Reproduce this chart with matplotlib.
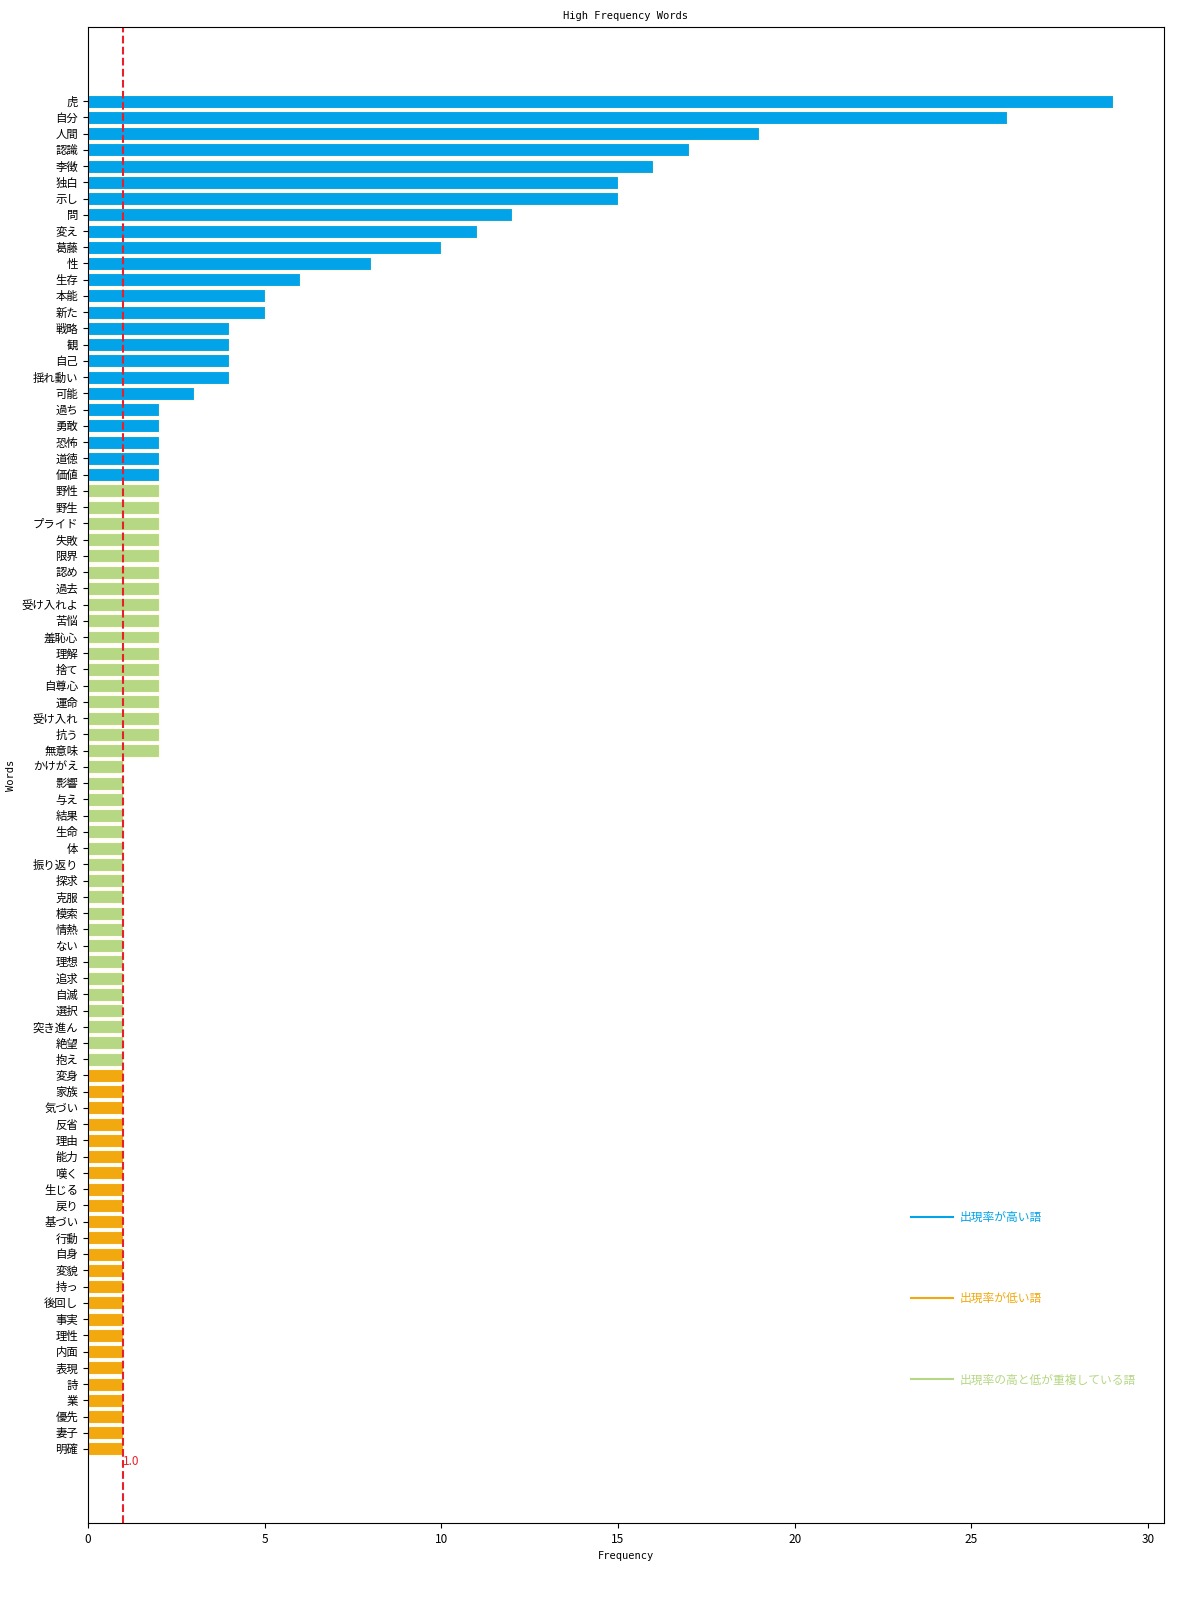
import matplotlib
matplotlib.use('Agg')
import matplotlib.pyplot as plt
from matplotlib.lines import Line2D

plt.rcParams['font.family'] = ['Noto Sans CJK JP', 'DejaVu Sans']

# Words, top to bottom
high_words = ['虎', '自分', '人間', '認識', '李徴', '独白', '示し', '問', '変え', '葛藤',
              '性', '生存', '本能', '新た', '戦略', '観', '自己', '揺れ動い', '可能',
              '過ち', '勇敢', '恐怖', '道徳', '価値']
high_freq = [29, 26, 19, 17, 16, 15, 15, 12, 11, 10,
             8, 6, 5, 5, 4, 4, 4, 4, 3,
             2, 2, 2, 2, 2]

both_words = ['野性', '野生', 'プライド', '失敗', '限界', '認め', '過去', '受け入れよ',
              '苦悩', '羞恥心', '理解', '捨て', '自尊心', '運命', '受け入れ', '抗う', '無意味',
              'かけがえ', '影響', '与え', '結果', '生命', '体', '振り返り', '探求', '克服',
              '模索', '情熱', 'ない', '理想', '追求', '自滅', '選択', '突き進ん', '絶望', '抱え']
both_freq = [2] * 17 + [1] * 19

low_words = ['変身', '家族', '気づい', '反省', '理由', '能力', '嘆く', '生じる', '戻り',
             '基づい', '行動', '自身', '変貌', '持っ', '後回し', '事実', '理性', '内面',
             '表現', '詩', '業', '優先', '妻子', '明確']
low_freq = [1] * 24

threshold = 1.0

c_high = '#03A3E9'
c_low = '#F2A80F'
c_both = '#B6D783'

words = high_words + both_words + low_words
freqs = high_freq + both_freq + low_freq
colors = [c_high] * len(high_words) + [c_both] * len(both_words) + [c_low] * len(low_words)

n = len(words)
ypos = [n - 1 - i for i in range(n)]

fig = plt.figure(figsize=(12, 16), dpi=100)
ax = fig.add_axes([0.0733, 0.0481, 0.8967, 0.9350])

ax.barh(ypos, freqs, height=0.8, color=colors, edgecolor='#FFFDE8', linewidth=0.8)
ax.set_yticks(ypos)
ax.set_yticklabels(words, fontsize=8.2)
ax.set_ylim(-4.56, n - 1 + 4.56)

ax.axvline(threshold, color='#E8202A', linestyle='--', linewidth=1.5)
ax.text(threshold, -0.75, f'{threshold}', color='#E8202A', fontsize=8.5,
        va='center', ha='left')

ax.tick_params(axis='x', labelsize=8.5)
mono = ['DejaVu Sans Mono']
ax.set_title('High Frequency Words', fontsize=7.5, family=mono)
ax.set_xlabel('Frequency', fontsize=7.5, family=mono)
ax.set_ylabel('Words', fontsize=7.5, family=mono)

handles = [Line2D([0], [0], color=c_high, lw=1.5),
           Line2D([0], [0], color=c_low, lw=1.5),
           Line2D([0], [0], color=c_both, lw=1.5)]
labels = ['出現率が高い語', '出現率が低い語', '出現率の高と低が重複している語']
ax.legend(handles, labels, loc='center left', bbox_to_anchor=(0.755, 0.15),
          frameon=False, fontsize=8.5, labelspacing=5.8, handlelength=3.6,
          handletextpad=0.5, labelcolor='linecolor')

fig.savefig('out.png', dpi=100)
